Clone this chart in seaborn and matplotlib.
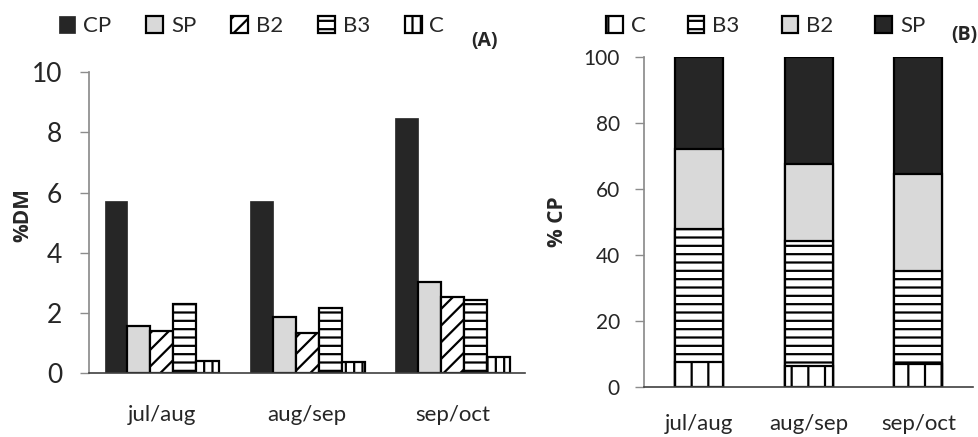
import numpy as np
import pandas as pd
import matplotlib
matplotlib.use("Agg")
import matplotlib.pyplot as plt
import seaborn as sns

# ── data ─────────────────────────────────────────────────────────────────────

periods = ["jul/aug", "aug/sep", "sep/oct"]

# (A) fractions as % of dry matter
fractions_a = ["CP", "SP", "B2", "B3", "C"]
cp = [5.72, 5.72, 8.47]
sp = [1.58, 1.86, 3.04]
b2 = [1.39, 1.35, 2.53]
b3 = [2.30, 2.18, 2.42]
c = [0.41, 0.36, 0.54]

# (B) fractions as % of CP (stacked, bottom to top)
fractions_b = ["C", "B3", "B2", "SP"]
c_pct = [7.6, 6.3, 6.9]
b3_pct = [40.2, 37.9, 28.2]
b2_pct = [24.2, 23.2, 29.4]
sp_pct = [28.0, 32.6, 35.5]

# ── style ────────────────────────────────────────────────────────────────────

sns.set_theme(style="white")
plt.rcParams["font.family"] = ["Lato", "DejaVu Sans"]
plt.rcParams["hatch.linewidth"] = 1.6
plt.rcParams["hatch.color"] = "black"

BOLD = ["Open Sans", "DejaVu Sans"]
DARK = "#262626"
LIGHT = "#d9d9d9"
TXT = "#262626"
style_a = {
    "CP": dict(color=DARK, hatch="", edge=DARK, lw=0.5),
    "SP": dict(color=LIGHT, hatch="", edge="black", lw=1.6),
    "B2": dict(color="white", hatch="//", edge="black", lw=1.6),
    "B3": dict(color="white", hatch="--", edge="black", lw=1.6),
    "C": dict(color="white", hatch="||", edge="black", lw=1.6),
}
style_b = {
    "C": dict(color="white", hatch="|", edge="black", lw=1.6),
    "B3": dict(color="white", hatch="--", edge="black", lw=1.6),
    "B2": dict(color=LIGHT, hatch="", edge="black", lw=1.6),
    "SP": dict(color=DARK, hatch="", edge="black", lw=1.6),
}


def _style_axis(ax, ysize, xsize, pad_x, pad_y):
    sns.despine(ax=ax)
    ax.spines["left"].set_color("#8c8c8c")
    ax.spines["bottom"].set_color("#404040")
    ax.spines["bottom"].set_linewidth(1.2)
    ax.tick_params(axis="y", left=True, length=6.5, width=1, color="#8c8c8c",
                   labelsize=ysize, pad=pad_y, labelcolor=TXT)
    ax.tick_params(axis="x", bottom=False, length=0, labelsize=xsize,
                   pad=pad_x, labelcolor=TXT)
    ax.set_xlabel("")


fig = plt.figure(figsize=(9.79, 4.37), dpi=100)

# ── (A) grouped bars ─────────────────────────────────────────────────────────

df_a = pd.DataFrame({
    "period": np.repeat(periods, len(fractions_a)),
    "fraction": fractions_a * len(periods),
    "value": np.column_stack([cp, sp, b2, b3, c]).ravel(),
})

ax_a = fig.add_axes([0.0912, 0.1458, 0.4452, 0.689])
sns.barplot(data=df_a, x="period", y="value", hue="fraction",
            hue_order=fractions_a, order=periods, width=0.79,
            palette={k: v["color"] for k, v in style_a.items()},
            saturation=1, legend=False, ax=ax_a)
for cont, name in zip(ax_a.containers, fractions_a):
    s = style_a[name]
    for p in cont.patches:
        p.set_hatch(s["hatch"])
        p.set_edgecolor(s["edge"])
        p.set_linewidth(s["lw"])
ax_a.set_ylim(0, 10)
ax_a.set_yticks([0, 2, 4, 6, 8, 10])
_style_axis(ax_a, ysize=19, xsize=16, pad_x=23, pad_y=13)
ax_a.set_ylabel("%DM", fontsize=15, fontweight="bold", family=BOLD,
                color=TXT)
ax_a.yaxis.set_label_coords(-0.129, 0.525)

fig.legend(ax_a.containers, fractions_a, loc="center left",
           bbox_to_anchor=(0.051, 0.94), ncol=5, frameon=False,
           fontsize=16, handlelength=0.75, handleheight=0.75,
           handletextpad=0.35, columnspacing=1.58, borderaxespad=0,
           labelcolor=TXT)
fig.text(0.508, 0.906, "(A)", ha="right", va="center", family=BOLD,
         fontsize=14, fontweight="bold", color=TXT)

# ── (B) stacked bars (drawn top-down as cumulative overlays) ─────────────────

segments = {"C": c_pct, "B3": b3_pct, "B2": b2_pct, "SP": sp_pct}
cum = np.cumsum([segments[k] for k in fractions_b], axis=0)

ax_b = fig.add_axes([0.658, 0.1151, 0.336, 0.755])
handles_b = {}
for i in reversed(range(len(fractions_b))):
    name = fractions_b[i]
    s = style_b[name]
    df_b = pd.DataFrame({"period": periods, "value": cum[i]})
    sns.barplot(data=df_b, x="period", y="value", order=periods,
                color=s["color"], saturation=1, width=0.44, ax=ax_b)
    cont = ax_b.containers[-1]
    for p in cont.patches:
        p.set_hatch(s["hatch"])
        p.set_edgecolor(s["edge"])
        p.set_linewidth(s["lw"])
    handles_b[name] = cont
ax_b.set_ylim(0, 100)
ax_b.set_yticks(range(0, 101, 20))
_style_axis(ax_b, ysize=15, xsize=16, pad_x=19.5, pad_y=11)
ax_b.set_ylabel("% CP", fontsize=15, fontweight="bold", family=BOLD,
                labelpad=11.5, color=TXT)

fig.legend([handles_b[k] for k in fractions_b], fractions_b, loc="center left",
           bbox_to_anchor=(0.610, 0.94), ncol=4, frameon=False,
           fontsize=16, handlelength=0.75, handleheight=0.75,
           handletextpad=0.35, columnspacing=1.9, borderaxespad=0,
           labelcolor=TXT)
fig.text(0.998, 0.92, "(B)", ha="right", va="center", family=BOLD,
         fontsize=14, fontweight="bold", color=TXT)

fig.savefig("out.png", dpi=100)
